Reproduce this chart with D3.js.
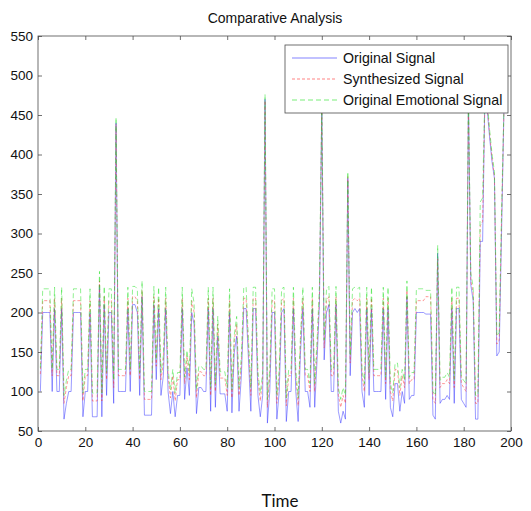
<!DOCTYPE html>
<html>
<head>
<meta charset="utf-8">
<script src="https://cdn.jsdelivr.net/npm/d3@7"></script>
<style>
  body { margin: 0; background: #fff; }
  text { font-family: "Liberation Sans", Arial, sans-serif; }
</style>
</head>
<body>
<div id="chart"></div>
<script>
// values, one per time step (t = 1 .. 197)
var originalSignal = [
  100,200,200,200,200,100,205,100,100,205,
  65,85,100,100,200,200,200,200,68,100,
  100,200,68,68,68,235,68,210,95,200,
  200,85,440,100,100,100,100,205,100,210,
  210,200,95,220,70,70,70,70,210,115,
  205,95,120,205,100,72,100,68,95,95,
  205,90,130,95,200,185,72,105,105,100,
  100,205,75,205,80,170,97,97,97,75,
  200,73,150,170,75,120,205,205,140,75,
  205,205,95,68,95,470,60,100,200,200,
  65,100,200,205,62,100,100,205,100,62,
  150,205,100,100,80,205,80,140,210,460,
  140,200,210,100,100,210,75,60,75,65,
  370,120,200,205,200,205,100,80,205,95,
  205,100,100,100,100,205,90,205,80,68,
  110,110,75,100,85,220,90,95,95,200,
  200,200,200,198,198,198,70,65,275,85,
  90,90,95,90,205,85,205,205,90,85,
  80,470,235,215,65,65,290,290,480,455,
  420,390,370,145,150,300,455
];

var synthesizedSignal = [
  122,215,215,215,215,120,218,120,120,218,
  85,105,120,120,215,215,215,215,88,120,
  120,215,88,88,88,240,88,220,115,215,
  215,105,438,120,120,120,120,218,120,220,
  220,215,115,228,90,90,90,90,220,132,
  218,115,136,218,120,92,120,88,115,115,
  218,110,145,115,215,200,92,125,125,120,
  120,218,95,218,100,185,117,117,117,95,
  215,92,165,185,95,136,218,218,155,95,
  218,218,115,88,115,468,80,120,215,215,
  85,120,215,218,82,120,120,218,120,82,
  165,218,120,120,100,218,100,155,220,458,
  155,215,220,120,120,220,95,80,95,85,
  372,136,215,218,215,218,120,100,218,115,
  218,120,120,120,120,218,110,218,100,88,
  128,128,95,120,105,228,110,115,115,215,
  215,215,215,220,220,220,90,85,268,105,
  110,110,115,110,218,105,218,218,110,105,
  100,468,240,225,85,85,310,315,478,460,
  425,395,372,160,165,315,453
];

var emotionalSignal = [
  130,230,230,230,230,128,232,128,128,232,
  95,114,128,128,230,230,230,230,98,128,
  128,230,98,98,98,252,98,233,124,230,
  230,114,447,128,128,128,128,232,128,233,
  233,230,124,240,100,100,100,100,233,140,
  232,124,145,232,128,102,128,98,124,124,
  232,118,152,124,230,212,102,132,132,128,
  128,232,105,232,110,195,125,125,125,105,
  230,102,172,195,105,145,232,232,165,105,
  232,232,124,98,124,476,90,128,230,230,
  95,128,230,232,92,128,128,232,128,92,
  172,232,128,128,110,232,110,165,233,466,
  165,230,233,128,128,233,105,90,105,95,
  378,145,230,232,230,232,128,110,232,124,
  232,128,128,128,128,232,118,232,110,98,
  136,136,105,128,114,240,118,124,124,230,
  230,230,230,228,228,228,100,95,285,114,
  118,118,124,118,232,114,232,232,118,114,
  110,476,250,232,95,95,340,345,486,466,
  430,400,378,170,175,325,460
];

var seriesNames = ["Original Signal", "Synthesized Signal", "Original Emotional Signal"];
var xTicks = [0, 20, 40, 60, 80, 100, 120, 140, 160, 180, 200];
var yTicks = [50, 100, 150, 200, 250, 300, 350, 400, 450, 500, 550];

// Dimensions (no "top" as a global name, it belongs to window)
var width = 531;
var height = 511;
var plotLeft = 38, plotRight = 511, plotTop = 36, plotBottom = 431;

var svg = d3
  .select("#chart")
  .append("svg")
  .attr("width", width)
  .attr("height", height);

var x = d3.scaleLinear().domain([0, 200]).range([plotLeft, plotRight]);
var y = d3.scaleLinear().domain([50, 550]).range([plotBottom, plotTop]);

// clip so the lines stay inside the box
svg.append("clipPath")
  .attr("id", "clip")
  .append("rect")
  .attr("x", plotLeft)
  .attr("y", plotTop)
  .attr("width", plotRight - plotLeft)
  .attr("height", plotBottom - plotTop);

// lines
var series = [
  { name: seriesNames[0], values: originalSignal, color: "#3030ff", dash: null },
  { name: seriesNames[1], values: synthesizedSignal, color: "#ff3030", dash: "3,2" },
  { name: seriesNames[2], values: emotionalSignal, color: "#20e020", dash: "5,3" }
];

var line = d3.line()
  .x(function (d, i) { return x(i + 1); })
  .y(function (d) { return y(d); });

var plot = svg.append("g").attr("clip-path", "url(#clip)");

plot.selectAll(".serie")
  .data(series)
  .enter()
  .append("path")
  .attr("class", "serie")
  .attr("d", function (d) { return line(d.values); })
  .attr("fill", "none")
  .attr("stroke", function (d) { return d.color; })
  .attr("stroke-width", 0.55)
  .attr("stroke-opacity", 0.9)
  .attr("stroke-dasharray", function (d) { return d.dash; });

// axes, ticks inside on all four sides
var axisColor = "#4d4d4d";

svg.append("g")
  .attr("transform", "translate(0," + plotBottom + ")")
  .call(d3.axisBottom(x).tickValues(xTicks).tickSizeInner(-4).tickSizeOuter(0).tickPadding(6))
  .call(function (g) { g.select(".domain").remove(); });

svg.append("g")
  .attr("transform", "translate(0," + plotTop + ")")
  .call(d3.axisTop(x).tickValues(xTicks).tickSizeInner(-4).tickSizeOuter(0).tickFormat(""))
  .call(function (g) { g.select(".domain").remove(); });

svg.append("g")
  .attr("transform", "translate(" + plotLeft + ",0)")
  .call(d3.axisLeft(y).tickValues(yTicks).tickSizeInner(-4).tickSizeOuter(0).tickPadding(5))
  .call(function (g) { g.select(".domain").remove(); });

svg.append("g")
  .attr("transform", "translate(" + plotRight + ",0)")
  .call(d3.axisRight(y).tickValues(yTicks).tickSizeInner(-4).tickSizeOuter(0).tickFormat(""))
  .call(function (g) { g.select(".domain").remove(); });

svg.selectAll(".tick line").attr("stroke", axisColor).attr("stroke-width", 0.8);
svg.selectAll(".tick text")
  .style("font-size", "13.5px")
  .style("font-family", "Liberation Sans, Arial, sans-serif")
  .attr("fill", "#111");

svg.append("rect")
  .attr("x", plotLeft)
  .attr("y", plotTop)
  .attr("width", plotRight - plotLeft)
  .attr("height", plotBottom - plotTop)
  .attr("fill", "none")
  .attr("stroke", axisColor)
  .attr("stroke-width", 0.8);

// title
svg.append("text")
  .attr("x", 275)
  .attr("y", 23)
  .attr("text-anchor", "middle")
  .style("font-size", "14px")
  .attr("fill", "#111")
  .text("Comparative Analysis");

// x label
svg.append("text")
  .attr("x", 280)
  .attr("y", 507)
  .attr("text-anchor", "middle")
  .style("font-family", "Lato, 'Open Sans', sans-serif")
  .style("font-size", "17px")
  .attr("fill", "#111")
  .text("Time");

// legend
var legend = svg.append("g");
legend.append("rect")
  .attr("x", 285)
  .attr("y", 45)
  .attr("width", 223)
  .attr("height", 68)
  .attr("fill", "#fff")
  .attr("stroke", axisColor)
  .attr("stroke-width", 0.8);

var item = legend.selectAll(".item")
  .data(series)
  .enter()
  .append("g")
  .attr("class", "item")
  .attr("transform", function (d, i) { return "translate(0," + (58 + i * 21) + ")"; });

item.append("line")
  .attr("x1", 292)
  .attr("x2", 337)
  .attr("stroke", function (d) { return d.color; })
  .attr("stroke-width", 0.6)
  .attr("stroke-dasharray", function (d) { return d.dash; });

item.append("text")
  .attr("x", 343)
  .attr("dy", "0.35em")
  .style("font-size", "14.2px")
  .attr("fill", "#111")
  .text(function (d) { return d.name; });
</script>
</body>
</html>
